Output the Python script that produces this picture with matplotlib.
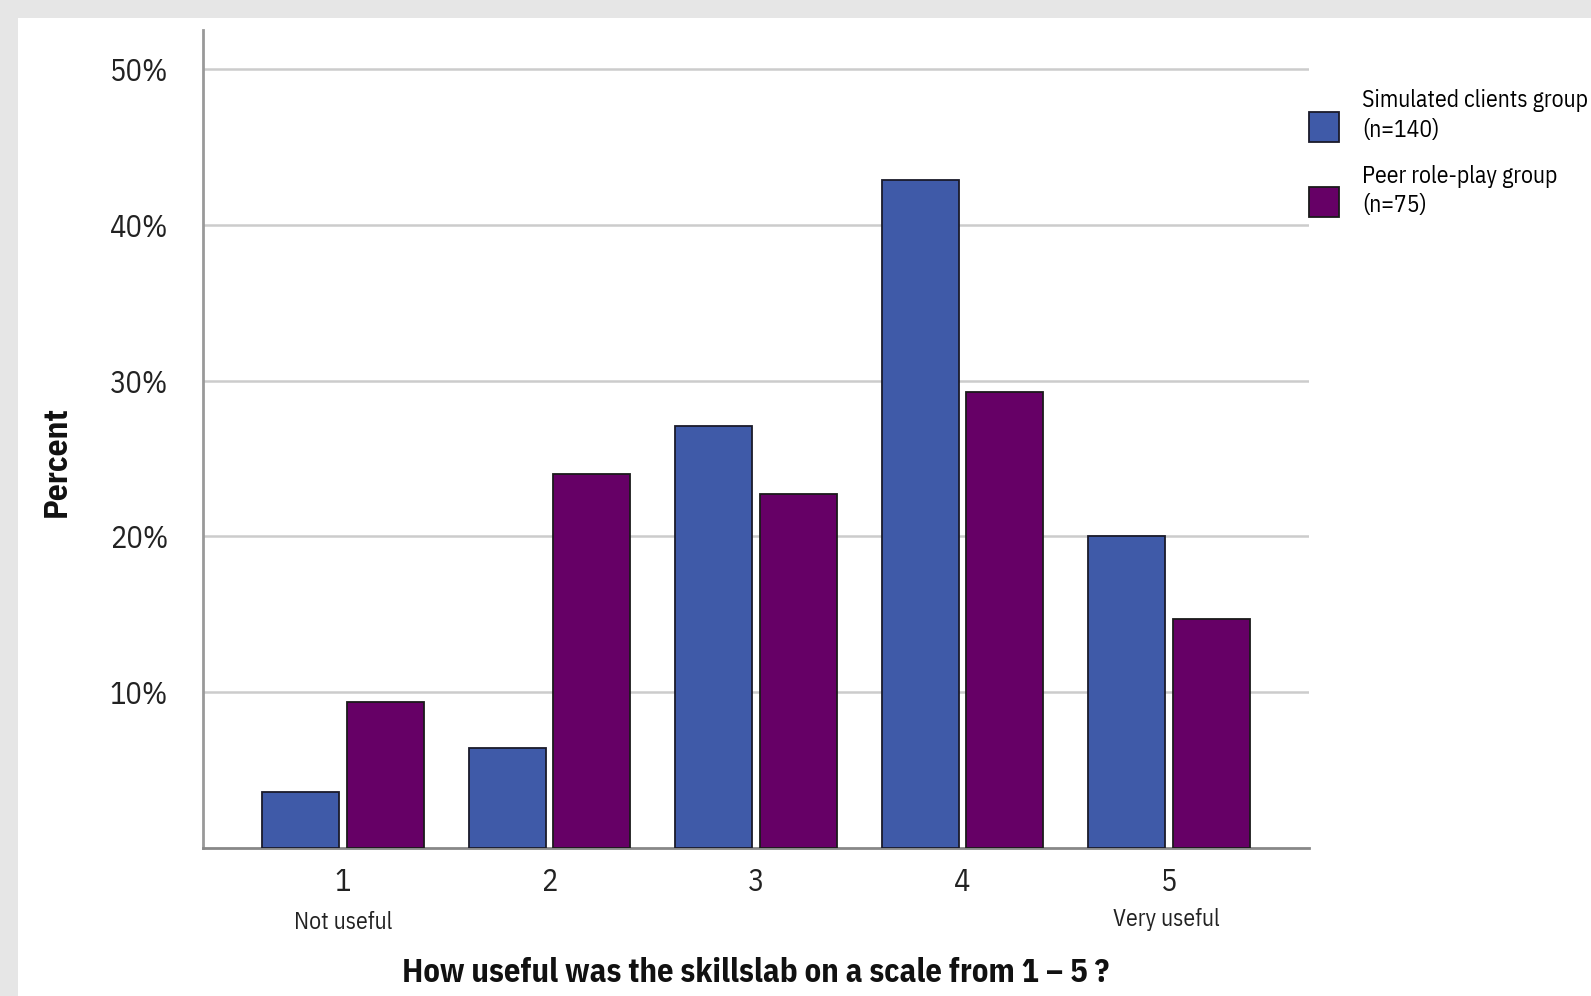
import numpy as np
import matplotlib
matplotlib.use("Agg")
import matplotlib.pyplot as plt
from matplotlib.patches import Rectangle
from matplotlib.legend_handler import HandlerPatch

plt.rcParams['font.family'] = ['IBM Plex Sans Condensed', 'DejaVu Sans']

# datos
escala = [1, 2, 3, 4, 5]
etiquetas_x = ["1", "2", "3", "4", "5"]
simulados = [3.6, 6.4, 27.1, 42.9, 20.0]
pares = [9.4, 24.0, 22.7, 29.3, 14.7]
nombres = ["Simulated clients group\n(n=140)", "Peer role-play group\n(n=75)"]
ticks_y = [10, 20, 30, 40, 50]

azul = "#3f5aa8"
morado = "#660066"

# medidas tomadas sobre la imagen de referencia (1568 x 982)
W, H = 1568.0, 982.0


def cuadrado(legend, orig_handle, xdescent, ydescent, width, height, fontsize):
    # cuadro del legend un poco mas abajo que el centro del texto
    lado = 21.6
    centro = -ydescent + height / 2 - 7.5
    return Rectangle((-xdescent, centro - lado / 2), width, lado)


fig = plt.figure(figsize=(15.91, 9.96), dpi=100)
fig.patch.set_facecolor("#e6e6e6")
# panel blanco (detras de todo)
fig.patches.append(Rectangle((18 / W, 0), 1, 1 - 18 / H, transform=fig.transFigure,
                             facecolor="white", edgecolor="none", zorder=-10))

ax = fig.add_axes([200 / W, 1 - 836 / H, 1090 / W, 806 / H])
ax.set_facecolor("none")

x = np.array(escala)
ancho = 0.373
b1 = ax.bar(x - 0.204, simulados, ancho, color=azul, edgecolor="#1a1a2a", linewidth=1.3,
            label=nombres[0], zorder=3)
b2 = ax.bar(x + 0.204, pares, ancho, color=morado, edgecolor="#1a1a1a", linewidth=1.3,
            label=nombres[1], zorder=3)

ax.set_xlim(0.322, 5.678)
ax.set_ylim(0, 52.5)
ax.set_yticks(ticks_y)
ax.set_yticklabels([f"{t}%" for t in ticks_y], fontsize=22, color="#222222")
ax.set_xticks(x)
ax.set_xticklabels(etiquetas_x, fontsize=22, color="#222222")
ax.tick_params(axis="y", length=0, pad=25)
ax.tick_params(axis="x", length=0, pad=14)
ax.grid(axis="y", color="#cccccc", linewidth=1.8, zorder=0)

for s in ["top", "right"]:
    ax.spines[s].set_visible(False)
ax.spines["left"].set_color("#999999")
ax.spines["left"].set_linewidth(2)
ax.spines["bottom"].set_color("#888888")
ax.spines["bottom"].set_linewidth(2)

# textos bajo 1 y 5
ax.text(1, -0.0915, "Not useful", transform=ax.get_xaxis_transform(), ha="center",
        va="center", fontsize=17, color="#222222")
ax.text(4.99, -0.087, "Very useful", transform=ax.get_xaxis_transform(), ha="center",
        va="center", fontsize=17, color="#222222")

ax.set_xlabel("How useful was the skillslab on a scale from 1 \u2013 5 ?", fontsize=23.5,
              fontweight="bold", color="#111111")
ax.xaxis.label.set_va("center")
ax.xaxis.set_label_coords(0.5, (836 - 959) / 806)
ax.set_ylabel("Percent", fontsize=24, fontweight="bold", color="#111111")
ax.yaxis.label.set_va("center")
ax.yaxis.set_label_coords((56 - 200) / 1090, (836 - 455) / 806)

leg = ax.legend(handles=[b1.patches[0], b2.patches[0]], labels=nombres,
                loc="upper left", bbox_to_anchor=(1290 / W, 1 - 88 / H),
                bbox_transform=fig.transFigure, frameon=False, fontsize=17,
                handlelength=1.29, handleheight=1.29, handletextpad=0.95,
                labelspacing=0.95, borderpad=0, borderaxespad=0,
                handler_map={Rectangle: HandlerPatch(patch_func=cuadrado)})
for t in leg.get_texts():
    t.set_linespacing(1.38)

fig.savefig("out.png", dpi=100, facecolor=fig.get_facecolor())
